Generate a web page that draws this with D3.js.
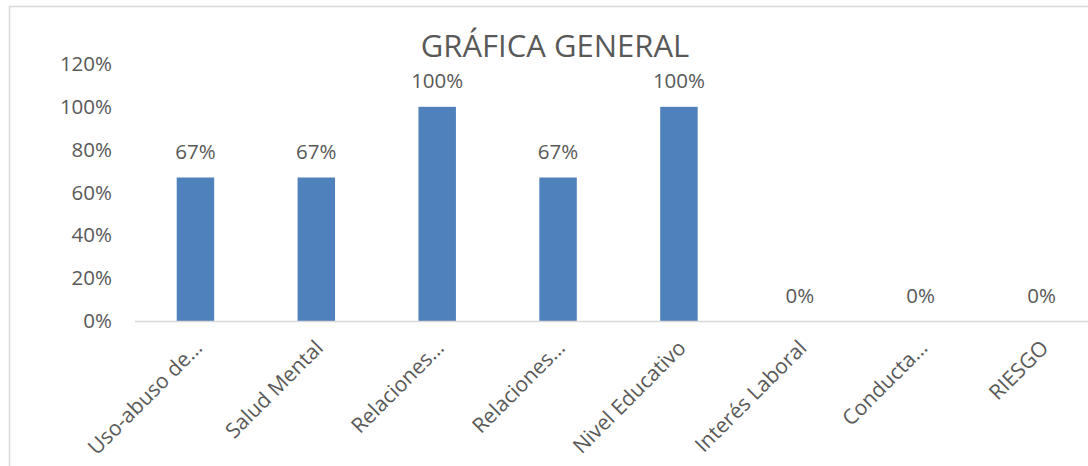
<!DOCTYPE html>
<html>
<head>
<meta charset="utf-8">
<script src="https://cdn.jsdelivr.net/npm/d3@7"></script>
<style>
  body { margin: 0; background: #fff; overflow: hidden; }
  svg { display: block; font-family: "Open Sans", sans-serif; }
</style>
</head>
<body>
<svg id="chart" width="1088" height="466"></svg>
<script>
// chart data
const categories = ["Uso-abuso de…", "Salud Mental", "Relaciones…", "Relaciones…",
                    "Nivel Educativo", "Interés Laboral", "Conducta…", "RIESGO"];
const values = [0.67, 0.67, 1.0, 0.67, 1.0, 0, 0, 0];
const yTicks = [0, 0.2, 0.4, 0.6, 0.8, 1.0, 1.2];
const title = "GRÁFICA GENERAL";

const textColor = "#595959";
const barColor = "#4f81bd";

const svg = d3.select("#chart");

// outer frame (cropped on the right / bottom like the source)
svg.append("rect")
    .attr("x", 9.5).attr("y", 6.5)
    .attr("width", 1200).attr("height", 600)
    .attr("fill", "none")
    .attr("stroke", "#d9d9d9")
    .attr("stroke-width", 1.5);

const x = d3.scaleBand()
    .domain(d3.range(categories.length))
    .range([135, 1102])
    .paddingInner(0.69)
    .paddingOuter(0.345);

const y = d3.scaleLinear()
    .domain([0, 1.2])
    .range([321, 64]);

svg.append("text")
    .attr("x", 555).attr("y", 57)
    .attr("text-anchor", "middle")
    .attr("fill", textColor)
    .style("font-size", "31px")
    .text(title);

// y axis labels only
const yAxis = svg.append("g")
    .attr("transform", "translate(112,0)")
    .call(d3.axisLeft(y).tickValues(yTicks).tickFormat(d3.format(".0%")).tickSize(0).tickPadding(0));
yAxis.select(".domain").remove();
yAxis.selectAll("text")
    .attr("fill", textColor)
    .style("font-size", "20.5px")
    .style("font-family", "Open Sans, sans-serif");

// bars
svg.append("g")
  .selectAll("rect")
  .data(values)
  .join("rect")
    .attr("x", (d, i) => x(i))
    .attr("y", d => y(d))
    .attr("width", x.bandwidth())
    .attr("height", d => y(0) - y(d))
    .attr("fill", barColor);

// baseline
svg.append("line")
    .attr("x1", 135).attr("x2", 1102)
    .attr("y1", y(0) + 0.5).attr("y2", y(0) + 0.5)
    .attr("stroke", "#d9d9d9")
    .attr("stroke-width", 1.5);

// data labels
svg.append("g")
  .selectAll("text")
  .data(values)
  .join("text")
    .attr("x", (d, i) => x(i) + x.bandwidth() / 2)
    .attr("y", d => y(d) - 18.5)
    .attr("text-anchor", "middle")
    .attr("fill", textColor)
    .style("font-size", "20.5px")
    .text(d => d3.format(".0%")(d));

// category labels, rotated
svg.append("g")
  .selectAll("text")
  .data(categories)
  .join("text")
    .attr("transform", (d, i) => `translate(${x(i) + x.bandwidth() / 2 + 3},${y(0) + 23}) rotate(-45)`)
    .attr("text-anchor", "end")
    .attr("dy", "0.35em")
    .attr("fill", textColor)
    .style("font-size", "21px")
    .text(d => d);
</script>
</body>
</html>
